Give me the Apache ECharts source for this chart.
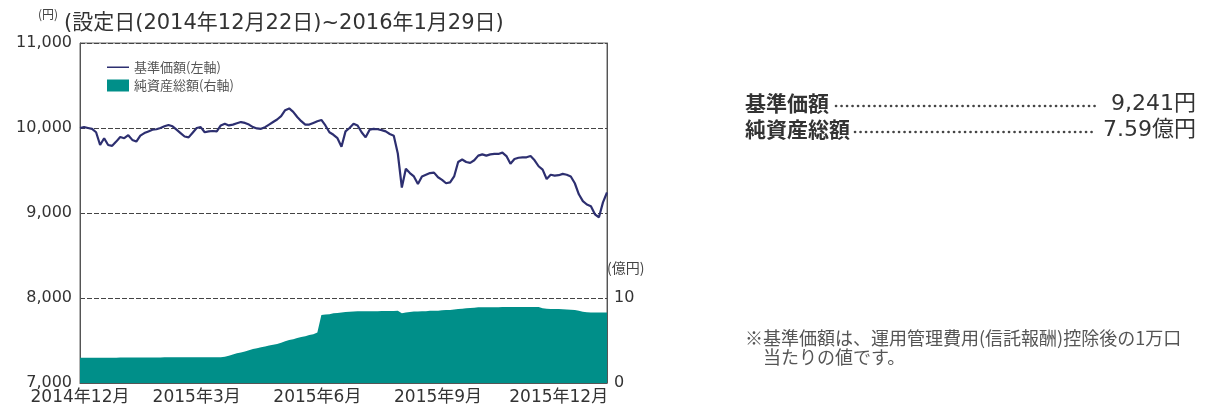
<!DOCTYPE html>
<html><head><meta charset="utf-8">
<script src="https://cdn.jsdelivr.net/npm/echarts@6/dist/echarts.min.js"></script>
<style>html,body{margin:0;padding:0;background:#fff}#c{width:1205px;height:414px}</style>
</head><body><div id="c"></div>
<script>
// 基準価額 (円), sampled evenly across the plotted period
const navPrice = [10000,10010,10000,9990,9950,9800,9880,9800,9790,9840,
9895,9880,9915,9860,9840,9910,9940,9960,9980,9985,
10000,10020,10035,10020,9980,9940,9900,9890,9945,10000,
10010,9950,9960,9965,9960,10030,10050,10030,10040,10055,
10070,10060,10040,10010,9995,9990,10010,10040,10070,10100,
10140,10210,10230,10190,10130,10080,10040,10040,10060,10080,
10095,10030,9950,9920,9880,9780,9960,10000,10050,10030,
9950,9890,9980,9990,9985,9975,9960,9930,9910,9700,
9300,9520,9470,9430,9340,9430,9450,9470,9475,9420,
9390,9350,9360,9430,9600,9630,9600,9590,9620,9675,
9690,9675,9690,9695,9695,9710,9670,9580,9635,9650,
9655,9655,9670,9620,9550,9510,9400,9450,9440,9445,
9460,9450,9430,9350,9220,9140,9100,9080,8985,8950,
9125,9241];
// 純資産総額 (億円)
const netAssets = [2.98,2.98,2.98,2.98,2.98,2.98,2.98,2.98,2.98,2.98,
3.0,3.0,3.0,3.0,3.0,3.0,3.0,3.0,3.0,3.0,
3.0,3.02,3.02,3.02,3.02,3.02,3.02,3.02,3.02,3.02,
3.02,3.02,3.02,3.02,3.02,3.02,3.08,3.2,3.35,3.5,
3.6,3.7,3.85,4.0,4.1,4.2,4.3,4.4,4.5,4.6,
4.75,4.9,5.05,5.15,5.3,5.4,5.5,5.65,5.75,5.95,
8.0,8.05,8.1,8.2,8.25,8.3,8.35,8.38,8.4,8.43,
8.45,8.45,8.45,8.45,8.45,8.48,8.48,8.48,8.48,8.5,
8.22,8.3,8.35,8.4,8.42,8.45,8.45,8.5,8.5,8.5,
8.55,8.58,8.6,8.65,8.7,8.75,8.8,8.82,8.85,8.9,
8.9,8.9,8.92,8.92,8.92,8.93,8.93,8.93,8.94,8.94,
8.94,8.94,8.94,8.94,8.94,8.78,8.75,8.72,8.7,8.7,
8.68,8.65,8.63,8.6,8.5,8.38,8.32,8.3,8.3,8.28,
8.28,8.3];
const categories = navPrice.map((_, i) => 'p' + i);
const monthLabels = ['2014年12月','2015年3月','2015年6月','2015年9月','2015年12月'];
const monthIdx = [0, 29, 59, 89, 119];
const leftTicks = [7000, 8000, 9000, 10000, 11000];
const rightTicks = [0, 10];

const FONT = '"DejaVu Sans","Noto Sans CJK JP",sans-serif';
const JFONT = '"Noto Sans CJK JP","DejaVu Sans",sans-serif';
const chart = echarts.init(document.getElementById('c'));
const isTick = (i) => monthIdx.indexOf(i) >= 0;
const LINE_ICON = 'path://M0,4H22V5.6H0Z M0,0H0.05V0.05H0Z M0,9.95H0.05V10H0Z';

chart.setOption({
  backgroundColor: '#fff',
  animation: false,
  textStyle: { fontFamily: FONT },
  grid: { left: 80, right: 598, top: 43, bottom: 31, show: true, borderColor: '#666', borderWidth: 1 },
  legend: {
    orient: 'vertical', left: 102, top: 56, itemGap: 5, itemWidth: 22, itemHeight: 12,
    textStyle: { fontSize: 13, color: '#555', fontFamily: JFONT },
    data: [{ name: '基準価額(左軸)', icon: LINE_ICON }, { name: '純資産総額(右軸)', icon: 'rect' }]
  },
  xAxis: {
    type: 'category', data: categories, boundaryGap: false,
    axisLine: { show: true, lineStyle: { color: '#555' } },
    axisTick: { show: true, inside: true, length: 4, interval: (i) => isTick(i), lineStyle: { color: '#333' } },
    axisLabel: {
      interval: (i) => isTick(i), color: '#333', fontSize: 17, margin: 6, fontFamily: FONT,
      formatter: (v, i) => monthLabels[monthIdx.indexOf(i)] || ''
    },
    splitLine: { show: false }
  },
  yAxis: [{
    type: 'value', min: 7000, max: 11000, interval: 1000, position: 'left',
    axisLine: { show: true, lineStyle: { color: '#555' } }, axisTick: { show: false },
    axisLabel: { color: '#333', fontSize: 16, margin: 8, fontFamily: FONT,
      formatter: (v) => leftTicks.indexOf(v) >= 0 ? v.toLocaleString('en-US') : '' },
    splitLine: { show: true, lineStyle: { color: '#444', type: [5, 2], width: 1 } }
  }, {
    type: 'value', min: 0, max: 40, interval: 10, position: 'right',
    axisLine: { show: true, lineStyle: { color: '#555' } }, axisTick: { show: false },
    axisLabel: { color: '#333', fontSize: 16, margin: 7, fontFamily: FONT,
      formatter: (v) => rightTicks.indexOf(v) >= 0 ? String(v) : '' },
    splitLine: { show: false }
  }],
  series: [{
    name: '純資産総額(右軸)', type: 'line', yAxisIndex: 1, data: netAssets,
    symbol: 'none', lineStyle: { width: 0 }, itemStyle: { color: '#008f89' },
    areaStyle: { color: '#008f89', opacity: 1 }, z: 1
  }, {
    name: '基準価額(左軸)', type: 'line', yAxisIndex: 0, data: navPrice,
    symbol: 'none', lineStyle: { width: 2.2, color: '#2d2f70' }, itemStyle: { color: '#2d2f70' }, z: 3
  }],
  graphic: [
    { type: 'text', left: 38, top: 8, style: { text: '(円)', fontSize: 12, fill: '#444', fontFamily: JFONT } },
    { type: 'text', left: 64, top: 13, style: { text: '(設定日(2014年12月22日)~2016年1月29日)', fontSize: 21, fill: '#333', fontFamily: FONT } },
    { type: 'text', left: 607, top: 261, style: { text: '(億円)', fontSize: 14, fill: '#444', fontFamily: JFONT } },
    { type: 'text', left: 745, top: 93, style: { text: '基準価額', fontSize: 21, fontWeight: 'bold', fill: '#333', fontFamily: JFONT } },
    { type: 'line', shape: { x1: 836, y1: 106, x2: 1097, y2: 106 }, style: { stroke: '#444', lineWidth: 2.6, lineDash: [0.1, 5.4], lineCap: 'round' } },
    { type: 'text', right: 9, top: 93, style: { text: '9,241円', fontSize: 22, fill: '#333', fontFamily: FONT } },
    { type: 'text', left: 745, top: 119, style: { text: '純資産総額', fontSize: 21, fontWeight: 'bold', fill: '#333', fontFamily: JFONT } },
    { type: 'line', shape: { x1: 855, y1: 132, x2: 1095, y2: 132 }, style: { stroke: '#444', lineWidth: 2.6, lineDash: [0.1, 5.4], lineCap: 'round' } },
    { type: 'text', right: 9, top: 119, style: { text: '7.59億円', fontSize: 22, fill: '#333', fontFamily: FONT } },
    { type: 'text', left: 745, top: 329, style: { text: '※基準価額は、運用管理費用(信託報酬)控除後の1万口\n　当たりの値です。', fontSize: 18, lineHeight: 19, fill: '#555', fontFamily: JFONT } }
  ]
});
</script></body></html>
